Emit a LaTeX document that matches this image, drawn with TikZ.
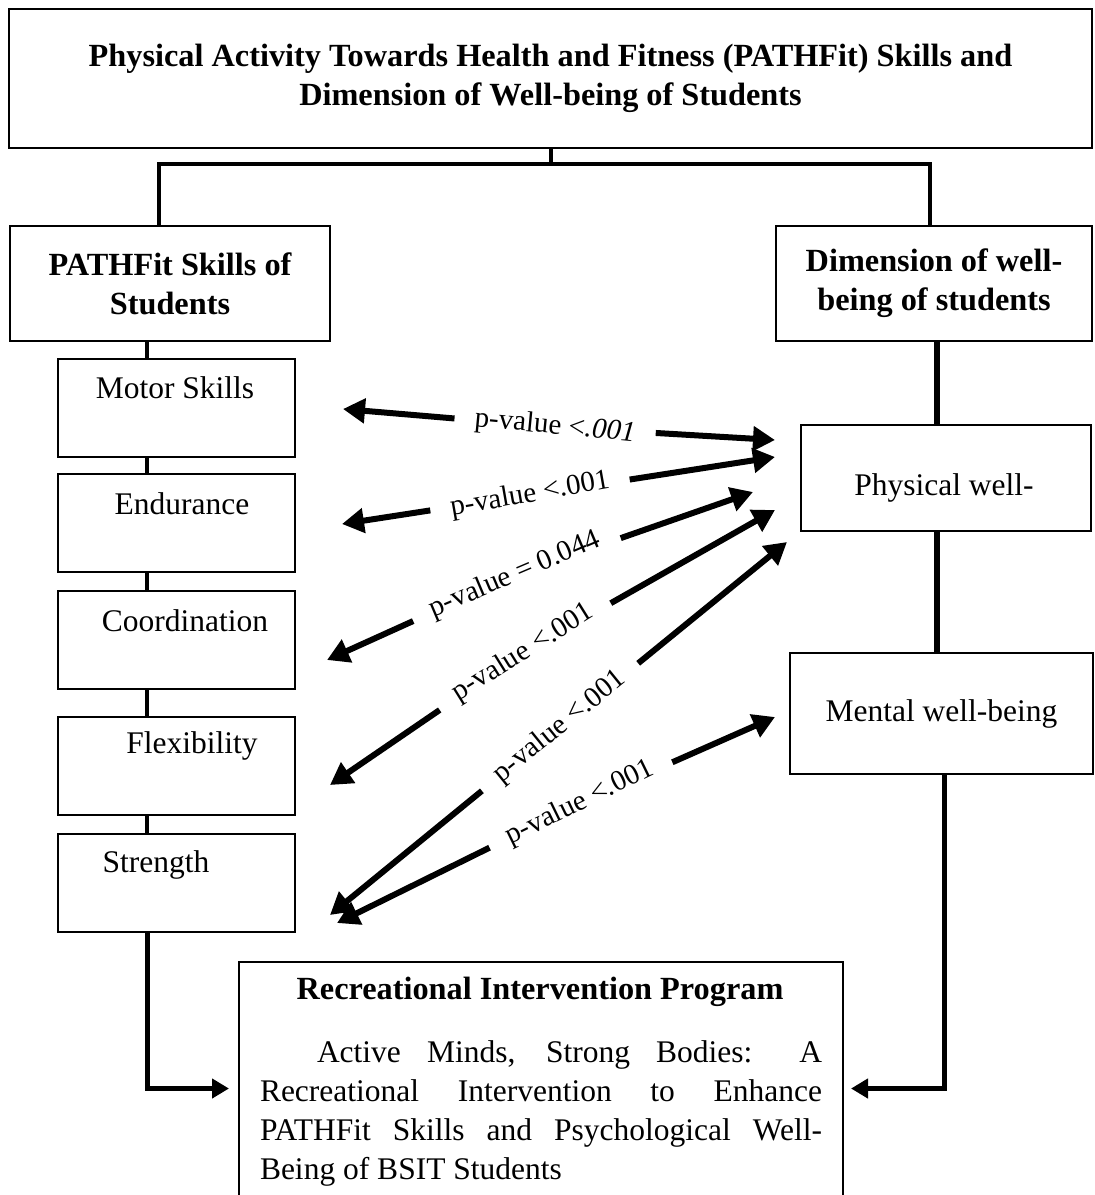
\documentclass[tikz,border=0pt]{standalone}
\usepackage{fontspec}
\setmainfont{Liberation Serif}
\usetikzlibrary{arrows.meta}
\usetikzlibrary{positioning}

\begin{document}
\begin{tikzpicture}[x=1pt,y=-1pt,
  box/.style={rectangle,draw,line width=2pt,inner sep=0pt},
  head/.style={font=\fontsize{32.3}{39}\selectfont\bfseries,align=center},
  txt/.style={font=\fontsize{31.5}{39}\selectfont},
  skill/.style={box,minimum width=237pt,minimum height=98pt},
  tree/.style={line width=4pt},
  link/.style={line width=4pt},
  pval/.style={font=\fontsize{29}{34}\selectfont,inner xsep=20pt,inner ysep=2pt},
  arr/.style={line width=6pt,-{Triangle[length=22pt,width=24pt]}},
  feed/.style={line width=5pt,-{Triangle[length=17pt,width=19pt]}}]

  \useasboundingbox (0,0) rectangle (1095,1195);
  \clip (0,0) rectangle (1095,1195);

  % main heading and the two branches
  \node[box,line width=2.5pt,minimum width=1083pt,minimum height=139pt,head] (title) at (550.5,78.5)
    {Physical Activity Towards Health and Fitness (PATHFit) Skills and\\Dimension of Well-being of Students};
  \node[box,minimum width=320pt,minimum height=115pt,head] (pathfit) at (170,283.5) {PATHFit Skills of\\Students};
  \node[box,minimum width=316pt,minimum height=115pt,head] (dimension) at (934,283.5) {Dimension of well-\\being of students};

  \draw[tree] (title.south) -- ++(0,15) coordinate (fork);
  \draw[tree] ([xshift=-11pt]pathfit.north) |- (fork) -| ([xshift=-4pt]dimension.north);

  % skills
  \node[skill] (motor) at (176.5,408) {};
  \node[skill] (endurance) at (176.5,522.5) {};
  \node[skill] (coordination) at (176.5,640) {};
  \node[skill] (flexibility) at (176,765.5) {};
  \node[skill] (strength) at (176,882.5) {};
  \node[txt] at ([xshift=-1.5pt,yshift=-30pt]motor.north) {Motor Skills};
  \node[txt] at ([xshift=5.5pt,yshift=-31pt]endurance.north) {Endurance};
  \node[txt] at ([xshift=8.5pt,yshift=-31pt]coordination.north) {Coordination};
  \node[txt] at ([xshift=16pt,yshift=-30pt]flexibility.north) {Flexibility};
  \node[txt] at ([xshift=-20pt,yshift=-32pt]strength.north) {Strength};

  \foreach \a/\b in {pathfit/motor,motor/endurance,endurance/coordination,coordination/flexibility,flexibility/strength}
    \draw[link] ([xshift=-29.5pt]\b.north) -- ([xshift=-29.5pt]\b.north |- \a.south);

  % well-being
  \node[box,minimum width=290pt,minimum height=106pt] (physical) at (946,478) {};
  \node[txt] at ([xshift=-2pt,yshift=-10pt]physical.center) {Physical well-};
  \node[box,minimum width=303pt,minimum height=121pt,txt] (mental) at (941.5,713.5) {Mental well-being};

  \draw[link,line width=5.5pt] ([xshift=-9pt]physical.north) -- ([xshift=-9pt]physical.north |- dimension.south);
  \draw[link,line width=5.5pt] ([xshift=-9pt]physical.south) -- ([xshift=-9pt]physical.south |- mental.north);

  % program
  \node[box,minimum width=604pt,minimum height=253pt] (rec) at (541,1088.5) {};
  \node[head] (rectitle) at ([xshift=-1pt,yshift=-31pt]rec.north) {Recreational Intervention Program};
  \node[txt,text width=562pt,align=justify,inner sep=0pt,anchor=north] (recbody) at ([yshift=-79pt]rec.north)
    {\hspace*{57pt}Active Minds, Strong Bodies: A\linebreak
     Recreational Intervention to Enhance\linebreak
     PATHFit Skills and Psychological Well-\linebreak
     Being of BSIT Students};

  \draw[feed,shorten >=9pt] ([xshift=-29pt]strength.south) |- (rec.west);
  \draw[feed,shorten >=7pt] ([xshift=2.5pt]mental.south) |- (rec.east);

  % p-values
  \coordinate (l1) at (343,409);  \coordinate (r1) at (775,440);
  \coordinate (l2) at (342,524);  \coordinate (r2) at (775,457);
  \coordinate (l3) at (327,660);  \coordinate (r3) at (753,492);
  \coordinate (l4) at (330,785);  \coordinate (r4) at (775,510);
  \coordinate (l5) at (330,915);  \coordinate (r5) at (787,542);
  \coordinate (l6) at (337,923);  \coordinate (r6) at (775,717);

  \node[pval,rotate=-5.5] (p1) at (555,427) {p-value <\textit{.001}};
  \node[pval,rotate=10] (p2) at (530,495) {p-value <.001};
  \node[pval,rotate=23] (p3) at (515,575) {p-value = 0.044};
  \node[pval,rotate=32] (p4) at (523,653) {p-value <.001};
  \node[pval,rotate=39] (p5) at (560,727) {p-value <.001};
  \node[pval,rotate=26] (p6) at (580,803) {p-value <.001};

  \foreach \i in {1,...,6} {
    \draw[arr] (p\i) -- (l\i);
    \draw[arr] (p\i) -- (r\i);
  }
\end{tikzpicture}
\end{document}
